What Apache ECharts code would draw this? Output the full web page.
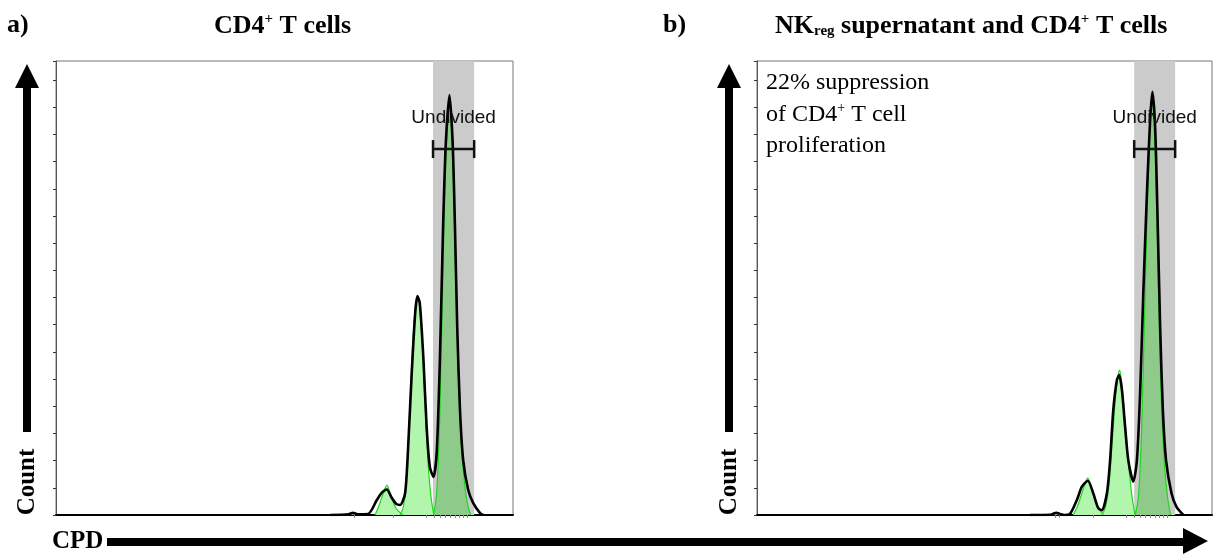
<!DOCTYPE html>
<html>
<head>
<meta charset="utf-8" />
<script src="https://cdn.jsdelivr.net/npm/echarts@6/dist/echarts.min.js"></script>
<style>
  html, body { margin: 0; padding: 0; background: #fff; }
  #chart-panel { width: 1217px; height: 560px; }
</style>
</head>
<body>
<div id="chart-panel"></div>
<script>
// CPD channel (0-1000) vs count
const totalA = [[600, 0], [640, 0.3], [650, 0.8], [660, 0.3], [683, 0.4], [702, 5.5], [713, 8.2], [724, 9.4], [734, 6.5], [745, 4], [753, 3.7], [764, 8.1], [771, 26.5], [778, 50.8], [786, 74.3], [791, 80.5], [796, 78], [804, 57.4], [811, 32.4], [818, 17.7], [826, 14], [833, 22.8], [840, 57], [847, 106], [853, 136.8], [861, 154.5], [868, 136.8], [873, 106], [878, 69], [884, 38.6], [891, 20.2], [902, 9.2], [913, 4.4], [928, 0.7], [935, 0]]
const gen0A = [[640, 0], [650, 0.7], [661, 0]]
const gen3A = [[698, 0], [707, 3.5], [716, 8], [724, 11], [733, 7], [744, 2.5], [759, 0]]
const gen2A = [[753, 0], [760, 3], [766, 12], [773, 35], [780, 62], [786, 76], [791, 80.5], [797, 75], [803, 58], [809, 36], [815, 17], [821, 6], [827, 0]]
const gen1A = [[826, 0], [833, 8], [840, 38], [847, 92], [854, 135], [861, 152], [868, 132], [874, 92], [880, 55], [887, 26], [895, 10], [902, 3], [907, 0]]

const totalB = [[600, 0], [645, 0.1], [651, 0.5], [658, 0.8], [666, 0.4], [675, 0], [688, 0.4], [703, 5.5], [714, 10.4], [727, 12.6], [739, 8], [750, 2.5], [758, 1.8], [769, 8], [776, 20], [783, 38.6], [791, 49.7], [796, 51.5], [802, 46], [809, 32.5], [816, 20.2], [827, 12.3], [835, 20.2], [842, 44.8], [849, 81.6], [857, 118.4], [864, 145.3], [869, 155.7], [875, 142.8], [880, 112], [886, 69.3], [892, 38.6], [899, 20.2], [911, 8], [922, 3], [937, 0]]
const gen0B = [[648, 0], [657, 0.8], [667, 0]]
const gen3B = [[695, 0], [705, 3.5], [716, 9], [727, 13.6], [737, 9], [748, 3.5], [761, 0]]
const gen2B = [[758, 0], [766, 3], [774, 12], [782, 30], [790, 47], [797, 53.3], [803, 46], [810, 32], [817, 18], [824, 7], [831, 0]]
const gen1B = [[831, 0], [838, 6], [845, 30], [852, 75], [860, 125], [869, 155], [876, 128], [882, 85], [888, 45], [895, 20], [902, 7], [909, 0]]

// "Undivided" gate: [from, to, bracket height]
const gateA = [825, 915, 134.6]
const gateB = [829, 919, 134.6]

const xTicksA = [652, 737, 810, 827, 840, 851, 862, 873, 882, 891, 899]
const xTicksB = [655, 664, 739, 811, 829, 842, 853, 864, 875, 884, 892, 901]
const yMax = 167

const serif = "'Liberation Serif', 'DejaVu Serif', serif"
const sans = "'Liberation Sans', Arial, sans-serif"
const lightFill = "#b2f5ac"
const darkFill = "#8ecb8a"
const greenLine = "#1fd51f"

const chart = echarts.init(document.getElementById("chart-panel"), null, { renderer: "canvas" })

const makeAxes = (idx, ticks) => {
  const xAxis = {
    type: "value",
    gridIndex: idx,
    min: 0,
    max: 1000,
    axisLine: { show: true, lineStyle: { color: "#000", width: 2 } },
    axisTick: { show: true, length: 3, customValues: ticks, lineStyle: { color: "#888", width: 1 } },
    axisLabel: { show: false },
    splitLine: { show: false }
  }
  const yAxis = {
    type: "value",
    gridIndex: idx,
    min: 0,
    max: yMax,
    interval: 10,
    axisLine: { show: true, lineStyle: { color: "#555", width: 1 } },
    axisTick: { show: true, length: 3, lineStyle: { color: "#333", width: 1 } },
    axisLabel: { show: false },
    splitLine: { show: false }
  }
  return [xAxis, yAxis]
}

const bandSeries = (idx, gate) => ({
  type: "custom",
  xAxisIndex: idx,
  yAxisIndex: idx,
  silent: true,
  z: 1,
  clip: true,
  data: [gate],
  renderItem: (params, api) => {
    const p0 = api.coord([api.value(0), yMax])
    const p1 = api.coord([api.value(1), 0])
    return {
      type: "rect",
      shape: { x: p0[0], y: p0[1], width: p1[0] - p0[0], height: p1[1] - p0[1] },
      style: { fill: "#cbcbcb" }
    }
  }
})

const fillSeries = (idx, data, fill) => ({
  type: "line",
  xAxisIndex: idx,
  yAxisIndex: idx,
  data: data,
  smooth: 0.3,
  showSymbol: false,
  silent: true,
  z: 2,
  lineStyle: { color: greenLine, width: 1.2 },
  areaStyle: { color: fill, opacity: 1 }
})

const totalSeries = (idx, data) => ({
  type: "line",
  xAxisIndex: idx,
  yAxisIndex: idx,
  data: data,
  smooth: 0.25,
  showSymbol: false,
  silent: true,
  z: 3,
  lineStyle: { color: "#000", width: 2.6 }
})

const gateSeries = (idx, gate) => ({
  type: "custom",
  xAxisIndex: idx,
  yAxisIndex: idx,
  silent: true,
  z: 4,
  data: [gate],
  renderItem: (params, api) => {
    const a = api.coord([api.value(0), api.value(2)])
    const b = api.coord([api.value(1), api.value(2)])
    const ls = { stroke: "#111", lineWidth: 2.5 }
    return {
      type: "group",
      children: [
        { type: "line", shape: { x1: a[0], y1: a[1], x2: b[0], y2: b[1] }, style: ls },
        { type: "line", shape: { x1: a[0], y1: a[1] - 9, x2: a[0], y2: a[1] + 9 }, style: ls },
        { type: "line", shape: { x1: b[0], y1: b[1] - 9, x2: b[0], y2: b[1] + 9 }, style: ls },
        {
          type: "text",
          x: (a[0] + b[0]) / 2,
          y: a[1] - 31,
          style: { text: "Undivided", font: "19px " + sans, fill: "#111", align: "center", verticalAlign: "middle" }
        }
      ]
    }
  }
})

const panelSeries = (idx, gate, g0, g3, g2, g1, total) => [
  bandSeries(idx, gate),
  fillSeries(idx, g0, lightFill),
  fillSeries(idx, g3, lightFill),
  fillSeries(idx, g2, lightFill),
  fillSeries(idx, g1, darkFill),
  totalSeries(idx, total),
  gateSeries(idx, gate)
]

const [xA, yA] = makeAxes(0, xTicksA)
const [xB, yB] = makeAxes(1, xTicksB)

const titleRich = {
  b: { fontFamily: serif, fontWeight: "bold", fontSize: 26, lineHeight: 30, verticalAlign: "bottom" },
  sup: { fontFamily: serif, fontWeight: "bold", fontSize: 15, verticalAlign: "top", padding: [3, 0, 0, 0] },
  sub: { fontFamily: serif, fontWeight: "bold", fontSize: 15, lineHeight: 10, verticalAlign: "bottom" }
}
const noteRich = {
  n: { fontFamily: serif, fontSize: 24, lineHeight: 31.5, verticalAlign: "bottom" },
  sup: { fontFamily: serif, fontSize: 14, verticalAlign: "top", padding: [6, 0, 0, 0] }
}
const boldFont = "bold 25px " + serif

const options = {
  backgroundColor: "#fff",
  animation: false,
  grid: [
    { left: 56, top: 61, width: 457, height: 454, show: true, borderColor: "#777", borderWidth: 1 },
    { left: 757, top: 61, width: 455, height: 454, show: true, borderColor: "#777", borderWidth: 1 }
  ],
  xAxis: [xA, xB],
  yAxis: [yA, yB],
  series: [
    ...panelSeries(0, gateA, gen0A, gen3A, gen2A, gen1A, totalA),
    ...panelSeries(1, gateB, gen0B, gen3B, gen2B, gen1B, totalB)
  ],
  graphic: [
    // panel titles
    { type: "text", left: 7, top: 12, style: { text: "{b|a)}", rich: titleRich } },
    { type: "text", left: 214, top: 12, style: { text: "{b|CD4}{sup|+}{b| T cells}", rich: titleRich } },
    { type: "text", left: 663, top: 12, style: { text: "{b|b)}", rich: titleRich } },
    { type: "text", left: 775, top: 12, style: { text: "{b|NK}{sub|reg}{b| supernatant and CD4}{sup|+}{b| T cells}", rich: titleRich } },
    // note in panel b
    { type: "text", left: 766, top: 71, style: { text: "{n|22% suppression}\n{n|of CD4}{sup|+}{n| T cell}\n{n|proliferation}", rich: noteRich } },
    // Count arrows
    { type: "rect", shape: { x: 23, y: 86, width: 8, height: 346 }, style: { fill: "#000" } },
    { type: "polygon", shape: { points: [[15, 88], [39, 88], [27, 64]] }, style: { fill: "#000" } },
    { type: "text", x: 28, y: 482, rotation: Math.PI / 2, style: { text: "Count", font: boldFont, fill: "#000", align: "center", verticalAlign: "middle" } },
    { type: "rect", shape: { x: 725, y: 86, width: 8, height: 346 }, style: { fill: "#000" } },
    { type: "polygon", shape: { points: [[717, 88], [741, 88], [729, 64]] }, style: { fill: "#000" } },
    { type: "text", x: 730, y: 482, rotation: Math.PI / 2, style: { text: "Count", font: boldFont, fill: "#000", align: "center", verticalAlign: "middle" } },
    // CPD arrow
    { type: "text", x: 52, y: 542, style: { text: "CPD", font: boldFont, fill: "#000", align: "left", verticalAlign: "middle" } },
    { type: "rect", shape: { x: 107, y: 538, width: 1078, height: 8 }, style: { fill: "#000" } },
    { type: "polygon", shape: { points: [[1183, 528], [1183, 554], [1208, 541]] }, style: { fill: "#000" } }
  ]
}
chart.setOption(options)
</script>
</body>
</html>
